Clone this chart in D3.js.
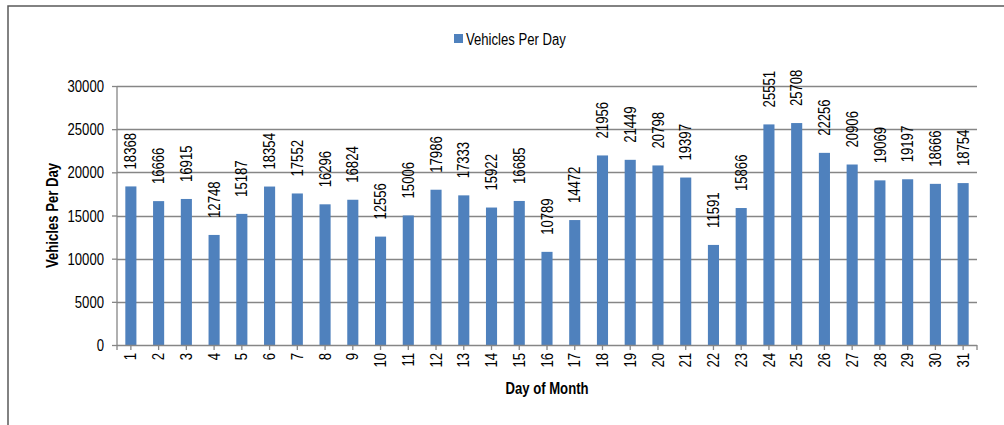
<!DOCTYPE html>
<html>
<head>
<meta charset="utf-8">
<script src="https://cdn.jsdelivr.net/npm/d3@7"></script>
<style>
html,body{margin:0;padding:0;background:#fff;}
svg{display:block;}
text{font-family:"Liberation Sans",Arial,sans-serif;fill:#000;}
</style>
</head>
<body>
<svg id="chart" width="1004" height="425"></svg>
<script>
const days = ["1","2","3","4","5","6","7","8","9","10","11","12","13","14","15","16","17","18","19","20","21","22","23","24","25","26","27","28","29","30","31"];
const vehiclesPerDay = [18368,16666,16915,12748,15187,18354,17552,16296,16824,12556,15006,17986,17333,15922,16685,10789,14472,21956,21449,20798,19397,11591,15866,25551,25708,22256,20906,19069,19197,18666,18754];
const yTicks = [0,5000,10000,15000,20000,25000,30000];
const seriesName = "Vehicles Per Day";
const xTitle = "Day of Month";
const yTitle = "Vehicles Per Day";

const svg = d3.select("#chart");
const L = 117, R = 977, T = 86, B = 345;
const barColor = "#4F81BD", gridColor = "#868686";
const NARROW = 0.82, FS = 16;

// place a narrow-looking text
function ntext(g, tx, ty, rot, str, anchor, bold) {
  return g.append("text")
    .attr("transform", `translate(${tx},${ty}) rotate(${rot}) scale(${NARROW},1)`)
    .attr("text-anchor", anchor || "start")
    .attr("font-size", FS)
    .attr("font-weight", bold ? "bold" : null)
    .attr("dy", "0.35em")
    .text(str);
}

// outer border
svg.append("path").attr("d", "M8,430 L8,6 L1010,6")
  .attr("fill","none").attr("stroke","#595959").attr("stroke-width",1.5);

const x = d3.scaleBand().domain(days).range([L, R]).paddingInner(0.6).paddingOuter(0.3);
const y = d3.scaleLinear().domain([0, 30000]).range([B, T]);

// gridlines
svg.append("g").selectAll("line").data(yTicks.filter(d => d > 0)).join("line")
  .attr("x1", L).attr("x2", R).attr("y1", d => Math.round(y(d)) + 0.5).attr("y2", d => Math.round(y(d)) + 0.5)
  .attr("stroke", gridColor).attr("stroke-width", 1.3);

// y axis
const yAxis = svg.append("g").attr("transform", `translate(${L},0)`)
  .call(d3.axisLeft(y).tickValues(yTicks).tickSize(5).tickFormat(d3.format("d")));
yAxis.select(".domain").attr("stroke", gridColor).attr("stroke-width", 1.3).attr("d", `M0,${T}V${B+5}`);
yAxis.selectAll(".tick line").attr("stroke", gridColor).attr("stroke-width", 1.3);
yAxis.selectAll(".tick text").remove();
yAxis.selectAll(".tick").each(function(d) {
  const t = d3.select(this).append("text")
    .attr("transform", `translate(-13,0) scale(${NARROW},1)`)
    .attr("text-anchor", "end").attr("font-size", FS).attr("font-family", null)
    .attr("dy", "0.35em").attr("fill", "#000").text(d3.format("d")(d));
});

// bars
svg.append("g").selectAll("rect").data(vehiclesPerDay).join("rect")
  .attr("x", (d, i) => x(days[i])).attr("width", x.bandwidth())
  .attr("y", d => y(d)).attr("height", d => B - y(d))
  .attr("fill", barColor);

// x axis
const xAxis = svg.append("g").attr("transform", `translate(0,${B})`)
  .call(d3.axisBottom(x).tickSize(5).tickSizeOuter(0));
xAxis.select(".domain").attr("stroke", gridColor).attr("stroke-width", 1.3).attr("d", `M${L},0.5H${R}`);
xAxis.selectAll(".tick line").attr("stroke", gridColor).attr("stroke-width", 1.3);
xAxis.selectAll(".tick text").remove();
xAxis.selectAll(".tick").each(function(d) {
  d3.select(this).append("text")
    .attr("transform", `translate(0,8) rotate(-90) scale(${NARROW},1)`)
    .attr("text-anchor", "end").attr("font-size", FS).attr("font-family", null)
    .attr("dy", "0.35em").attr("fill", "#000").text(d);
});
svg.append("line").attr("x1", R).attr("x2", R).attr("y1", B).attr("y2", B + 5)
  .attr("stroke", gridColor).attr("stroke-width", 1.3);

// data labels
const lab = svg.append("g");
vehiclesPerDay.forEach((v, i) => {
  ntext(lab, x(days[i]) + x.bandwidth()/2, y(v) - 17, -90, v, "start");
});

// legend
svg.append("rect").attr("x", 454).attr("y", 34).attr("width", 9).attr("height", 9).attr("fill", barColor);
ntext(svg, 466, 39, 0, seriesName, "start");

// axis titles
ntext(svg, (L + R) / 2, 388, 0, xTitle, "middle", true);
ntext(svg, 52, (T + B) / 2, -90, yTitle, "middle", true);
</script>
</body>
</html>
